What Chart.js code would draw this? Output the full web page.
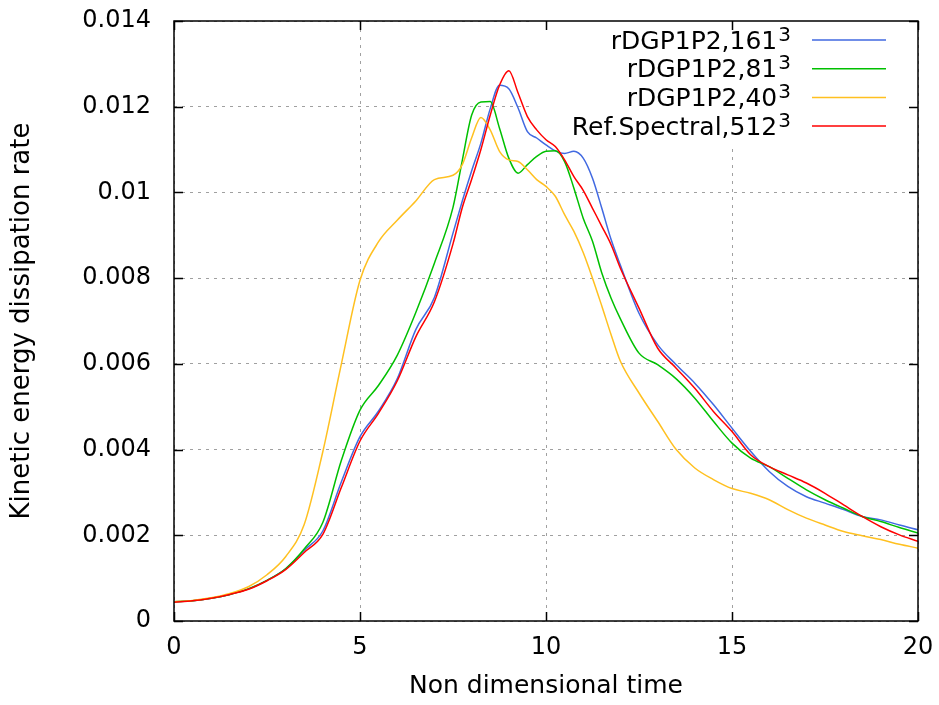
<!DOCTYPE html>
<html>
<head>
<meta charset="utf-8">
<script src="https://cdn.jsdelivr.net/npm/chart.js@4/dist/chart.umd.min.js"></script>
<style>
  html, body { margin: 0; padding: 0; background: #ffffff; }
  canvas { display: block; }
</style>
</head>
<body>
<canvas id="c" width="939" height="705"></canvas>
<script>
// ---------------- data ----------------
const time = [0,0.5,1,1.5,2,2.5,3,3.5,4,4.5,5,5.5,6,6.5,7,7.5,7.75,8,8.25,8.5,8.75,9,9.25,9.5,9.75,10,10.25,10.5,10.75,11,11.25,11.5,11.75,12,12.5,13,13.5,14,14.5,15,15.5,16,16.5,17,17.5,18,18.5,19,19.5,20];

const rdg161 = [0.45e-3,0.47e-3,0.53e-3,0.62e-3,0.75e-3,0.95e-3,1.22e-3,1.65e-3,2.1e-3,3.25e-3,4.3e-3,4.9e-3,5.65e-3,6.8e-3,7.55e-3,9.05e-3,9.8e-3,10.5e-3,11.15e-3,11.95e-3,12.5e-3,12.42e-3,11.97e-3,11.42e-3,11.27e-3,11.11e-3,10.97e-3,10.91e-3,10.96e-3,10.8e-3,10.33e-3,9.63e-3,8.9e-3,8.3e-3,7.18e-3,6.45e-3,5.98e-3,5.55e-3,5.05e-3,4.5e-3,3.96e-3,3.49e-3,3.14e-3,2.9e-3,2.75e-3,2.6e-3,2.44e-3,2.36e-3,2.24e-3,2.13e-3];

const rdg81 = [0.45e-3,0.47e-3,0.53e-3,0.62e-3,0.75e-3,0.95e-3,1.22e-3,1.68e-3,2.3e-3,3.75e-3,4.92e-3,5.5e-3,6.2e-3,7.2e-3,8.35e-3,9.65e-3,10.75e-3,11.8e-3,12.11e-3,12.12e-3,11.5e-3,10.8e-3,10.45e-3,10.65e-3,10.84e-3,10.96e-3,10.97e-3,10.72e-3,10.1e-3,9.4e-3,8.86e-3,8.12e-3,7.53e-3,7.05e-3,6.25e-3,5.98e-3,5.65e-3,5.2e-3,4.66e-3,4.15e-3,3.8e-3,3.6e-3,3.33e-3,3.06e-3,2.83e-3,2.63e-3,2.44e-3,2.32e-3,2.18e-3,2.05e-3];

const rdg40 = [0.45e-3,0.48e-3,0.54e-3,0.64e-3,0.8e-3,1.08e-3,1.5e-3,2.25e-3,3.95e-3,6.0e-3,7.95e-3,8.85e-3,9.35e-3,9.8e-3,10.3e-3,10.4e-3,10.65e-3,11.27e-3,11.75e-3,11.46e-3,10.96e-3,10.76e-3,10.72e-3,10.53e-3,10.3e-3,10.14e-3,9.91e-3,9.48e-3,9.09e-3,8.6e-3,8.0e-3,7.35e-3,6.68e-3,6.06e-3,5.32e-3,4.66e-3,4.0e-3,3.57e-3,3.3e-3,3.09e-3,2.98e-3,2.83e-3,2.6e-3,2.4e-3,2.24e-3,2.09e-3,1.99e-3,1.9e-3,1.79e-3,1.7e-3];

const spectral512 = [0.44e-3,0.47e-3,0.53e-3,0.62e-3,0.74e-3,0.94e-3,1.2e-3,1.6e-3,2.02e-3,3.12e-3,4.2e-3,4.85e-3,5.6e-3,6.63e-3,7.45e-3,8.8e-3,9.65e-3,10.3e-3,11.0e-3,11.8e-3,12.5e-3,12.84e-3,12.32e-3,11.77e-3,11.46e-3,11.23e-3,11.07e-3,10.76e-3,10.37e-3,10.05e-3,9.63e-3,9.21e-3,8.78e-3,8.23e-3,7.3e-3,6.37e-3,5.9e-3,5.43e-3,4.89e-3,4.42e-3,3.88e-3,3.6e-3,3.41e-3,3.22e-3,2.98e-3,2.71e-3,2.44e-3,2.2e-3,2.01e-3,1.86e-3];

const seriesNames = ['rDGP1P2,161', 'rDGP1P2,81', 'rDGP1P2,40', 'Ref.Spectral,512'];
const seriesExp = ['3', '3', '3', '3'];
const seriesColors = ['#4169e1', '#00c000', '#ffc020', '#ff0000'];
const seriesValues = [rdg161, rdg81, rdg40, spectral512];

const xTitle = 'Non dimensional time';
const yTitle = 'Kinetic energy dissipation rate';
const xMin = 0, xMax = 20, xStep = 5;
const yMin = 0, yMax = 0.014, yStep = 0.002;

// ---------------- chart ----------------
const FONT = 'DejaVu Sans';

function toPoints(vals) { return time.map((t, i) => ({ x: t, y: vals[i] })); }

const datasets = seriesValues.map((vals, i) => ({
  label: seriesNames[i],
  data: toPoints(vals),
  borderColor: seriesColors[i],
  backgroundColor: seriesColors[i],
  borderWidth: 1.5,
  pointRadius: 0,
  fill: false,
  cubicInterpolationMode: 'monotone',
  order: seriesValues.length - 1 - i
}));

const keyBoxPlugin = {
  id: 'keyBox',
  beforeDatasetsDraw(chart) {
    const { ctx, chartArea } = chart;
    ctx.save();
    ctx.fillStyle = '#ffffff';
    ctx.fillRect(532, chartArea.top, chartArea.right - 532, 145 - chartArea.top);
    ctx.restore();
  }
};

const keyPlugin = {
  id: 'gnuKey',
  afterDatasetsDraw(chart) {
    const { ctx } = chart;
    ctx.save();
    const rightEdge = 791;
    const rowY = [40, 68.7, 97.5, 126];
    chart.data.datasets.forEach((ds, i) => {
      const y = rowY[i];
      ctx.font = '20px "' + FONT + '"';
      const supW = ctx.measureText(seriesExp[i]).width;
      ctx.font = '25px "' + FONT + '"';
      const baseW = ctx.measureText(ds.label).width;
      const startX = rightEdge - supW - baseW - 1;
      ctx.fillStyle = '#000';
      ctx.textAlign = 'left';
      ctx.textBaseline = 'alphabetic';
      ctx.fillText(ds.label, startX, y + 8.5);
      ctx.font = '20px "' + FONT + '"';
      ctx.fillText(seriesExp[i], startX + baseW + 1, y + 0.5);
      ctx.strokeStyle = ds.borderColor;
      ctx.lineWidth = 1.5;
      ctx.beginPath();
      ctx.moveTo(812, y);
      ctx.lineTo(886, y);
      ctx.stroke();
    });
    ctx.restore();
  }
};

const framePlugin = {
  id: 'frame',
  afterDraw(chart) {
    const { ctx, chartArea } = chart;
    const { left, right, top, bottom } = chartArea;
    const xs = chart.scales.x, ys = chart.scales.y;
    const TL = 9;
    ctx.save();
    ctx.strokeStyle = '#000';
    ctx.lineWidth = 1.5;
    ctx.strokeRect(left, top, right - left, bottom - top);
    ctx.beginPath();
    xs.ticks.forEach(t => {
      const px = Math.round(xs.getPixelForValue(t.value)) + 0.5;
      ctx.moveTo(px, bottom); ctx.lineTo(px, bottom - TL);
      ctx.moveTo(px, top); ctx.lineTo(px, top + TL);
    });
    ys.ticks.forEach(t => {
      const py = Math.round(ys.getPixelForValue(t.value)) + 0.5;
      ctx.moveTo(left, py); ctx.lineTo(left + TL, py);
      ctx.moveTo(right, py); ctx.lineTo(right - TL, py);
    });
    ctx.stroke();
    ctx.restore();
  }
};

new Chart(document.getElementById('c'), {
  type: 'line',
  data: { datasets },
  options: {
    responsive: false,
    animation: false,
    devicePixelRatio: 1,
    layout: { padding: { top: 21, right: 21, left: 0, bottom: 0 } },
    plugins: { legend: { display: false }, tooltip: { enabled: false } },
    scales: {
      x: {
        type: 'linear',
        min: xMin, max: xMax,
        ticks: { stepSize: xStep, color: '#000', font: { family: FONT, size: 24 }, padding: 12, maxRotation: 0 },
        grid: { color: '#a0a0a0', lineWidth: 1, drawTicks: false },
        border: { display: false, dash: [3, 5] },
        title: { display: true, text: xTitle, color: '#000', font: { family: FONT, size: 25 }, padding: { top: 0, bottom: 4 } },
        afterFit(scale) { scale.height = 84; scale.paddingLeft = 0; scale.paddingRight = 0; }
      },
      y: {
        type: 'linear',
        min: yMin, max: yMax,
        ticks: {
          stepSize: yStep, color: '#000', font: { family: FONT, size: 24 }, padding: 23,
          callback: v => String(parseFloat(Number(v).toFixed(3)))
        },
        grid: { color: '#a0a0a0', lineWidth: 1, drawTicks: false },
        border: { display: false, dash: [3, 5] },
        title: { display: true, text: yTitle, color: '#000', font: { family: FONT, size: 26 }, padding: { top: 7, bottom: 0 } },
        afterFit(scale) { scale.width = 174; scale.paddingTop = 0; scale.paddingBottom = 0; }
      }
    }
  },
  plugins: [keyBoxPlugin, keyPlugin, framePlugin]
});
</script>
</body>
</html>
